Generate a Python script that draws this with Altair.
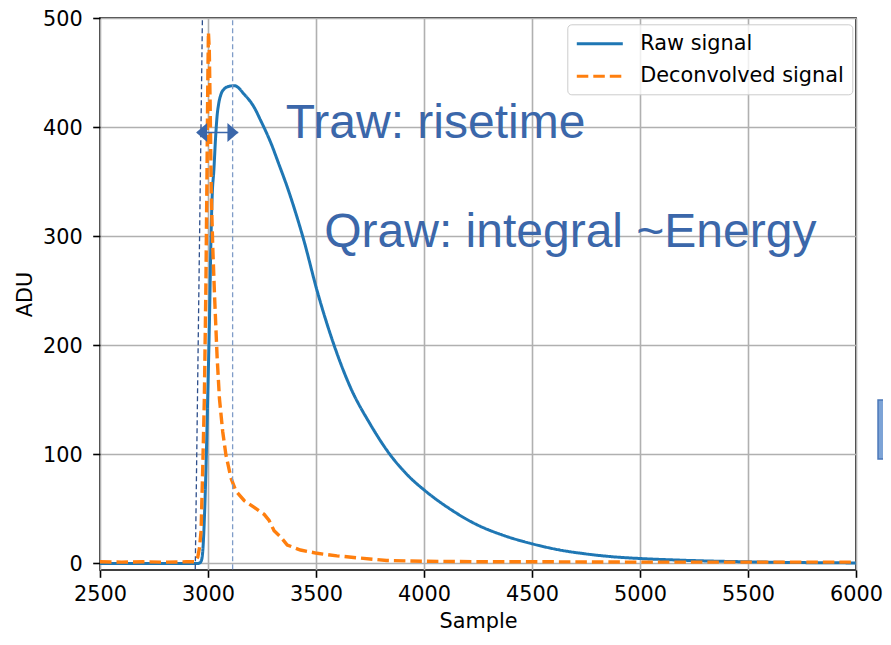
import altair as alt
import pandas as pd

# ---------------- data ----------------
raw_x = [2500, 2700, 2900, 2950, 2962, 2970, 2976, 2983, 2991, 2999, 3007, 3014, 3020,
         3027, 3035, 3042, 3050, 3060, 3075, 3091, 3122, 3168, 3214, 3244, 3290, 3330,
         3367, 3405, 3444, 3505, 3582, 3658, 3750, 3842, 3934, 4003, 4120, 4240, 4364,
         4501, 4624, 4747, 4870, 5003, 5120, 5238, 5370, 5502, 5625, 5800, 6000]
raw_y = [0, 0, 0, 0, 0.5, 3, 12, 40, 90, 155, 225, 300, 340,
         360, 390, 410, 422, 430, 435, 437, 438, 430, 418, 406, 386, 365,
         345, 322, 296, 250, 201, 162, 128, 100, 79, 67, 50, 36, 26,
         18, 12.5, 8.8, 6.2, 4.5, 3.5, 2.7, 2, 1.5, 1.1, 0.7, 0.5]

dec_x = [2500, 2600, 2700, 2800, 2900, 2940, 2953, 2961, 2968, 2976, 2983, 2990, 2995,
         2999, 3002, 3006, 3010, 3015, 3022, 3030, 3042, 3053, 3068, 3083, 3106, 3129,
         3168, 3214, 3260, 3283, 3306, 3336, 3367, 3428, 3505, 3597, 3700, 3827, 4011,
         4300, 4600, 5000, 5500, 6000]
dec_y = [1.5, 1.2, 1.5, 1.2, 1.5, 1.5, 6, 15, 30, 90, 150, 250, 350,
         440, 487, 470, 420, 340, 290, 247, 190, 151, 121, 99.5, 78.5, 66.5,
         57.5, 51.4, 45, 39.4, 30, 24.4, 16.9, 12.3, 9.3, 7, 5, 2.7, 2,
         1.5, 1.5, 1.2, 1.2, 1.2]

series_names = ["Raw signal", "Deconvolved signal"]
series_colors = ["#1f77b4", "#ff7f0e"]
series_dash = [[1, 0], [11.5, 5]]

x_ticks = [2500, 3000, 3500, 4000, 4500, 5000, 5500, 6000]
y_ticks = [0, 100, 200, 300, 400, 500]
x_domain = [2500, 6000]
y_domain = [-6, 500]

# annotations
ann_text = ["Traw: risetime", "Qraw: integral ~Energy"]
ann_x = [3360, 3538]
ann_y = [390, 290]

# dashed markers (start / end of rise)
mark_x_top = [2974, 3114]
mark_x_bot = [2941, 3114]
mark_y_top = [498, 498]
mark_y_bot = [-5.4, -5.4]
mark_color = ["#2e4f8c", "#7f9cc8"]

# double arrow
arrow_x = [2950, 3140]
arrow_y = 395
head_x = [2970.5, 3115.4]
head_shape = ["M-0.58,0L0.58,-1L0.58,1Z", "M0.58,0L-0.58,-1L-0.58,1Z"]

# fragment of a box at the right edge
box_x = [6102, 6200]
box_y = [95.7, 149.8]

FONT = "DejaVu Sans"
FS = 20.8
TXT_BLUE = "#3B67AA"

df_raw = pd.DataFrame({"Sample": raw_x, "ADU": raw_y, "series": series_names[0]})
df_dec = pd.DataFrame({"Sample": dec_x, "ADU": dec_y, "series": series_names[1]})

xs = alt.Scale(domain=x_domain, nice=False, zero=False)
ys = alt.Scale(domain=y_domain, nice=False, zero=False)

legend = alt.Legend(
    title=None, orient="none", legendX=467.3, legendY=6.3,
    symbolType="M-2.3,0H2.3", symbolSize=400, symbolStrokeWidth=3,
    symbolOffset=13, labelOffset=29, labelLimit=400,
    labelFont=FONT, labelFontSize=FS, labelColor="black",
    rowPadding=10.4, padding=8,
    strokeColor="#cccccc", fillColor="rgba(255,255,255,0.8)", cornerRadius=4,
)
color_enc = alt.Color("series:N", scale=alt.Scale(domain=series_names, range=series_colors), legend=legend)
dash_enc = alt.StrokeDash("series:N", scale=alt.Scale(domain=series_names, range=series_dash), legend=legend)

x_enc = alt.X("Sample:Q", scale=xs, title="Sample",
              axis=alt.Axis(values=x_ticks, format="d", labelFlush=False, labelOverlap=False))
y_enc = alt.Y("ADU:Q", scale=ys, title="ADU",
              axis=alt.Axis(values=y_ticks, format="d", labelFlush=False, labelOverlap=False,
                            labelOffset=1.4))

raw_line = alt.Chart(df_raw).mark_line(strokeWidth=3, interpolate="monotone").encode(
    x=x_enc, y=y_enc, color=color_enc, strokeDash=dash_enc)
dec_line = alt.Chart(df_dec).mark_line(strokeWidth=3.4).encode(
    x="Sample:Q", y="ADU:Q", color=color_enc, strokeDash=dash_enc)

df_marks = pd.DataFrame({"x": mark_x_top, "x2": mark_x_bot, "y": mark_y_top,
                         "y2": mark_y_bot, "c": mark_color})
marks = alt.Chart(df_marks).mark_rule(strokeWidth=1.3, strokeDash=[5, 3]).encode(
    x="x:Q", x2="x2:Q", y="y:Q", y2="y2:Q",
    color=alt.Color("c:N", scale=None, legend=None))

df_arrow = pd.DataFrame({"x": [arrow_x[0]], "x2": [arrow_x[1]], "y": [arrow_y]})
arrow_line = alt.Chart(df_arrow).mark_rule(strokeWidth=1.6, color=TXT_BLUE).encode(
    x="x:Q", x2="x2:Q", y="y:Q")
df_heads = pd.DataFrame({"x": head_x, "y": [arrow_y, arrow_y], "shape": head_shape})
heads = alt.Chart(df_heads).mark_point(filled=True, size=361, opacity=1, color=TXT_BLUE, strokeWidth=0).encode(
    x="x:Q", y="y:Q", shape=alt.Shape("shape:N", scale=None, legend=None))

df_ann = pd.DataFrame({"x": ann_x, "y": ann_y, "t": ann_text})
ann = alt.Chart(df_ann).mark_text(font="Liberation Sans", fontSize=48, align="left",
                                  baseline="alphabetic", color=TXT_BLUE).encode(
    x="x:Q", y="y:Q", text="t:N")

df_box = pd.DataFrame({"x": [box_x[0]], "x2": [box_x[1]], "y": [box_y[0]], "y2": [box_y[1]]})
box = alt.Chart(df_box).mark_rect(fill="#7ca3d6", stroke="#4a77b8", strokeWidth=1.5).encode(
    x="x:Q", x2="x2:Q", y="y:Q", y2="y2:Q")

chart = alt.layer(raw_line, dec_line, marks, arrow_line, heads, ann, box).properties(
    width=756, height=552,
    autosize=alt.AutoSizeParams(type="none"),
    padding={"left": 92, "top": 10, "right": 27, "bottom": 63},
).configure_view(
    stroke="black", strokeWidth=1.66
).configure_axis(
    grid=True, gridColor="#b0b0b0", gridWidth=1.6,
    domain=False, ticks=True, tickColor="black", tickWidth=1.6, tickSize=7.3,
    labelFont=FONT, labelFontSize=FS, labelColor="black",
    titleFont=FONT, titleFontSize=FS, titleColor="black", titleFontWeight="normal",
).configure_axisX(labelPadding=7.5, titlePadding=7).configure_axisY(labelPadding=10.5, titlePadding=7)

chart.save("out.html", embed_options={"renderer": "svg", "actions": False})
